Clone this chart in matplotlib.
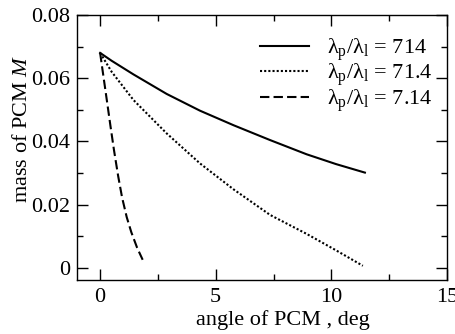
import numpy as np
import matplotlib
matplotlib.use("Agg")
import matplotlib.pyplot as plt
from matplotlib.ticker import MultipleLocator, FuncFormatter

plt.rcParams['font.family'] = ['Liberation Serif', 'DejaVu Serif']
plt.rcParams['mathtext.fontset'] = 'custom'
plt.rcParams['mathtext.rm'] = 'Liberation Serif'
plt.rcParams['mathtext.it'] = 'Liberation Serif:italic'
plt.rcParams['font.size'] = 16

# values
theta_714 = [0, 0.5, 1.44, 2.88, 4.32, 5.77, 7.35, 8.93, 10.2, 11.45]
m_714 = [0.068, 0.0655, 0.0612, 0.0550, 0.0497, 0.0451, 0.0404, 0.0359, 0.0328, 0.0301]

theta_714b = [0, 0.5, 1.44, 2.88, 4.32, 5.77, 7.35, 8.93, 10.2, 11.36]
m_714b = [0.068, 0.062, 0.0531, 0.0425, 0.0330, 0.0248, 0.0167, 0.0107, 0.0055, 0.0006]

theta_714c = [0, 0.15, 0.3, 0.45, 0.6, 0.78, 0.95, 1.15, 1.35, 1.6, 1.84]
m_714c = [0.068, 0.0602, 0.0525, 0.0447, 0.0372, 0.0290, 0.0222, 0.0160, 0.0112, 0.0063, 0.0025]

labels = ['λ$_\\mathrm{p}$/λ$_\\mathrm{l}$ = 714',
          'λ$_\\mathrm{p}$/λ$_\\mathrm{l}$ = 71.4',
          'λ$_\\mathrm{p}$/λ$_\\mathrm{l}$ = 7.14']

fig = plt.figure(figsize=(4.56, 3.34), dpi=100)
ax = fig.add_axes([77/456, 1 - 280/334, 370/456, 265/334])

ax.plot(theta_714, m_714, color='black', lw=1.5, label=labels[0])
ax.plot(theta_714b, m_714b, color='black', lw=1.5, dashes=(1.0, 1.0), label=labels[1])
ax.plot(theta_714c, m_714c, color='black', lw=1.5, dashes=(4.5, 2.0), label=labels[2])

ax.set_xlim(-1, 15)
ax.set_ylim(-0.0039, 0.08)
ax.xaxis.set_major_locator(MultipleLocator(5))
ax.xaxis.set_minor_locator(MultipleLocator(2.5))
ax.yaxis.set_major_locator(MultipleLocator(0.02))
ax.yaxis.set_minor_locator(MultipleLocator(0.01))
ax.yaxis.set_major_formatter(FuncFormatter(lambda v, p: '%g' % round(v, 4)))
ax.tick_params(which='both', direction='in', top=True, right=True, width=1)
ax.tick_params(which='major', length=8, pad=6)
ax.tick_params(axis='y', which='major', pad=5)
ax.tick_params(which='minor', length=4)
for s in ax.spines.values():
    s.set_linewidth(1)

ax.set_xlabel('angle of PCM , deg')
ax.xaxis.set_label_coords(0.557, -0.115)
ax.set_ylabel('mass of PCM $M$')
ax.yaxis.set_label_coords(-0.122, 0.57)

ax.legend(loc='upper right', bbox_to_anchor=(1.0, 0.974), frameon=False,
          handlelength=2.2, handletextpad=0.8, labelspacing=-0.05,
          borderaxespad=0.15, borderpad=0.5)

fig.savefig('out.png', dpi=100)
